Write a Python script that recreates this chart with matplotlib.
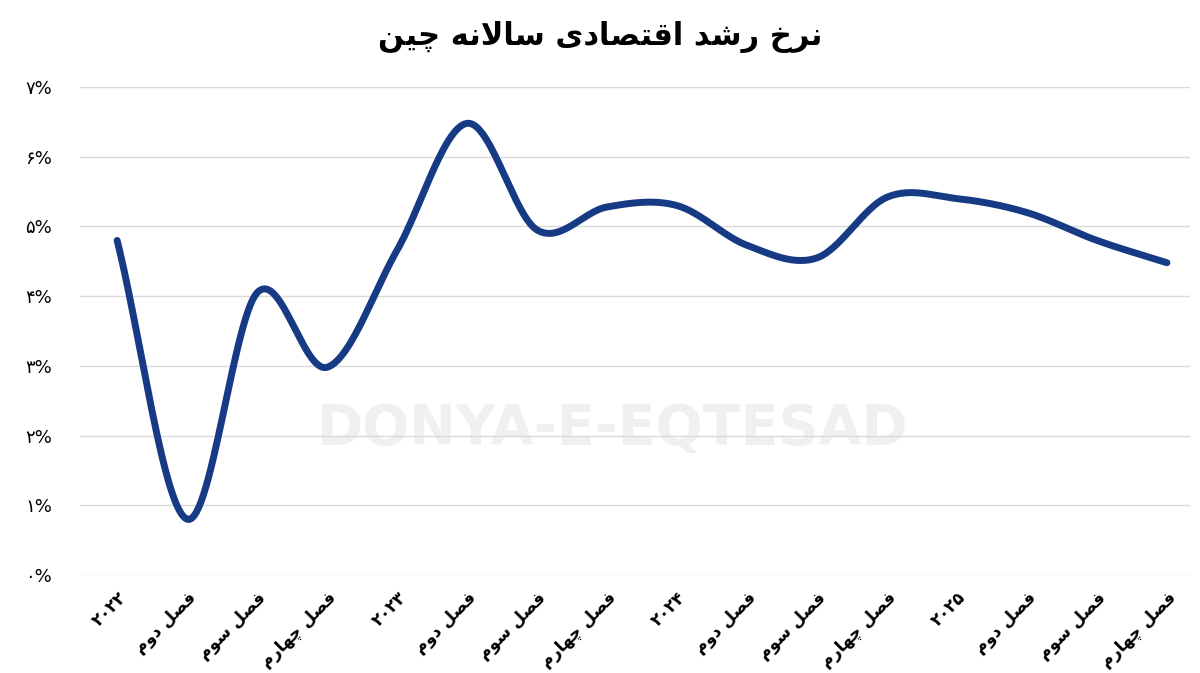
import matplotlib
matplotlib.use("Agg")
import matplotlib.pyplot as plt
import numpy as np

# Arabic-script shaping (matplotlib has no shaping engine)
FORMS = {
    "ا": ("\uFE8D", "\uFE8E"), "د": ("\uFEA9", "\uFEAA"), "ر": ("\uFEAD", "\uFEAE"),
    "و": ("\uFEED", "\uFEEE"),
    "خ": ("\uFEA5", "\uFEA6", "\uFEA7", "\uFEA8"), "ش": ("\uFEB5", "\uFEB6", "\uFEB7", "\uFEB8"),
    "ق": ("\uFED5", "\uFED6", "\uFED7", "\uFED8"), "ت": ("\uFE95", "\uFE96", "\uFE97", "\uFE98"),
    "ص": ("\uFEB9", "\uFEBA", "\uFEBB", "\uFEBC"), "س": ("\uFEB1", "\uFEB2", "\uFEB3", "\uFEB4"),
    "ل": ("\uFEDD", "\uFEDE", "\uFEDF", "\uFEE0"), "ه": ("\uFEE9", "\uFEEA", "\uFEEB", "\uFEEC"),
    "ن": ("\uFEE5", "\uFEE6", "\uFEE7", "\uFEE8"), "ف": ("\uFED1", "\uFED2", "\uFED3", "\uFED4"),
    "م": ("\uFEE1", "\uFEE2", "\uFEE3", "\uFEE4"), "چ": ("\uFB7A", "\uFB7B", "\uFB7C", "\uFB7D"),
    "ی": ("\uFBFC", "\uFBFD", "\uFBFE", "\uFBFF"),
}


def shape_word(w):
    out = []
    i = 0
    prev_joins = False
    while i < len(w):
        c = w[i]
        if c not in FORMS:
            out.append(c)
            prev_joins = False
            i += 1
            continue
        if c == "ل" and i + 1 < len(w) and w[i + 1] == "ا":
            out.append("\uFEFC" if prev_joins else "\uFEFB")
            prev_joins = False
            i += 2
            continue
        f = FORMS[c]
        nxt = w[i + 1] if i + 1 < len(w) else None
        next_ok = len(f) == 4 and nxt in FORMS
        if prev_joins and next_ok:
            g = f[3]
        elif prev_joins:
            g = f[1]
        elif next_ok:
            g = f[2]
        else:
            g = f[0]
        out.append(g)
        prev_joins = len(f) == 4
        i += 1
    return "".join(out)[::-1]


def rtl(s):
    words = s.split(" ")
    return " ".join(shape_word(w) if any(ch in FORMS for ch in w) else w for w in reversed(words))


# data
labels = ["۲۰۲۲", "فصل دوم", "فصل سوم", "فصل چهارم",
          "۲۰۲۳", "فصل دوم", "فصل سوم", "فصل چهارم",
          "۲۰۲۴", "فصل دوم", "فصل سوم", "فصل چهارم",
          "۲۰۲۵", "فصل دوم", "فصل سوم", "فصل چهارم"]
growth = [4.8, 0.8, 4.05, 2.98, 4.66, 6.48, 4.95, 5.28,
          5.3, 4.73, 4.55, 5.42, 5.4, 5.2, 4.8, 4.48]
ytick_vals = [0, 1, 2, 3, 4, 5, 6, 7]
ytick_labels = ["۰%", "۱%", "۲%", "۳%", "۴%", "۵%", "۶%", "۷%"]
title = "نرخ رشد اقتصادی سالانه چین"

LINE = "#173A85"
GRID = "#D9D9D9"


def catmull_rom(x, y, n=30):
    x = np.asarray(x, float)
    y = np.asarray(y, float)
    px = np.concatenate([[2 * x[0] - x[1]], x, [2 * x[-1] - x[-2]]])
    py = np.concatenate([[2 * y[0] - y[1]], y, [2 * y[-1] - y[-2]]])
    xs, ys = [], []
    t = np.linspace(0, 1, n, endpoint=False)
    for i in range(1, len(px) - 2):
        for p, out in ((px, xs), (py, ys)):
            p0, p1, p2, p3 = p[i - 1], p[i], p[i + 1], p[i + 2]
            out.extend(0.5 * (2 * p1 + (-p0 + p2) * t + (2 * p0 - 5 * p1 + 4 * p2 - p3) * t ** 2
                              + (-p0 + 3 * p1 - 3 * p2 + p3) * t ** 3))
    xs.append(x[-1])
    ys.append(y[-1])
    return np.array(xs), np.array(ys)


plt.rcParams["font.family"] = ["DejaVu Sans"]
fig = plt.figure(figsize=(12, 6.73), dpi=100)
ax = fig.add_axes([0.0667, 0.1456, 0.925, 0.725])

xi = np.arange(len(growth))
sx, sy = catmull_rom(xi, growth)

ax.text(0.48, 0.30, "DONYA-E-EQTESAD", transform=ax.transAxes, ha="center", va="center",
        fontsize=40, fontweight="bold", color="#F0F0F0", zorder=0)

ax.plot(sx, sy, color=LINE, lw=5, solid_capstyle="round", zorder=3)

ax.set_xlim(-0.53, 15.33)
ax.set_ylim(0, 7)
ax.set_yticks(ytick_vals)
ax.set_yticklabels(ytick_labels, fontsize=13)
ax.set_xticks(xi)
ax.set_xticklabels([rtl(l) for l in labels], rotation=45, ha="right",
                   rotation_mode="anchor", fontsize=12, fontweight="bold")
ax.grid(axis="y", color=GRID, lw=1)
ax.set_axisbelow(True)
for s in ax.spines.values():
    s.set_visible(False)
ax.tick_params(length=0, pad=10)
ax.tick_params(axis="y", pad=20)

fig.text(0.5, 0.945, rtl(title), ha="center", va="center", fontsize=22, fontweight="bold")

fig.savefig("out.png", dpi=100, facecolor="white")
